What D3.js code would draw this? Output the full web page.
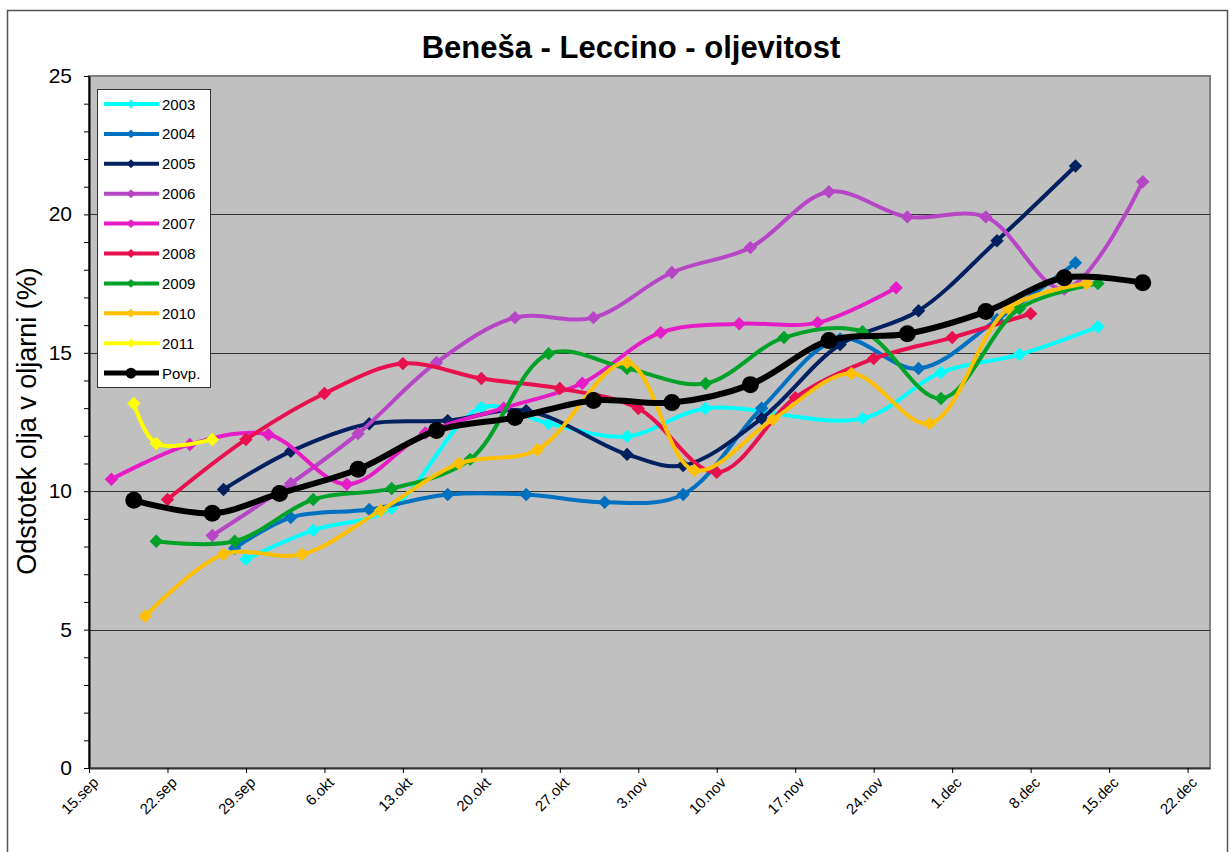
<!DOCTYPE html>
<html lang="sl">
<head>
    <meta charset="UTF-8">
    <title>Beneša - Leccino - oljevitost</title>
    <script src="https://d3js.org/d3.v7.min.js"></script>
</head>

<style>
    body { margin: 0; background: #fff; }
    text { font-family: "Liberation Sans", Arial, sans-serif; }
    .grid line { stroke: #333; stroke-width: 1px; }
</style>

<body>
<svg width="1231" height="852"></svg>

<script>
    // podatki: datum (dan.mesec) in odstotek olja
    var names = ["2003", "2004", "2005", "2006", "2007", "2008", "2009", "2010", "2011", "Povp."];
    var colors = ["#00FFFF", "#0070C0", "#002060", "#B646C6", "#E61CC6", "#E8104E", "#00A328", "#FFC000", "#FFFF00", "#000000"];

    var s2003 = [["29.09", 7.54], ["05.10", 8.59], ["12.10", 9.38], ["20.10", 13.02], ["26.10", 12.45],
        ["02.11", 11.98], ["09.11", 12.99], ["23.11", 12.63], ["30.11", 14.29], ["07.12", 14.94], ["14.12", 15.94]];
    var s2004 = [["28.09", 7.94], ["03.10", 9.05], ["10.10", 9.34], ["17.10", 9.88], ["24.10", 9.88],
        ["31.10", 9.6], ["07.11", 9.88], ["14.11", 13.0], ["21.11", 15.5], ["28.11", 14.43],
        ["05.12", 16.2], ["12.12", 18.25]];
    var s2005 = [["27.09", 10.06], ["03.10", 11.44], ["10.10", 12.44], ["17.10", 12.55], ["24.10", 12.91],
        ["02.11", 11.33], ["07.11", 10.93], ["14.11", 12.63], ["21.11", 15.3], ["28.11", 16.52],
        ["05.12", 19.05], ["12.12", 21.75]];
    var s2006 = [["26.09", 8.4], ["03.10", 10.28], ["09.10", 12.08], ["16.10", 14.65], ["23.10", 16.27],
        ["30.10", 16.27], ["06.11", 17.9], ["13.11", 18.8], ["20.11", 20.82], ["27.11", 19.91],
        ["04.12", 19.91], ["11.12", 17.3], ["18.12", 21.18]];
    var s2007 = [["17.09", 10.43], ["24.09", 11.69], ["01.10", 12.05], ["08.10", 10.25], ["15.10", 12.1],
        ["22.10", 13.0], ["29.10", 13.9], ["05.11", 15.73], ["12.11", 16.05], ["19.11", 16.09], ["26.11", 17.35]];
    var s2008 = [["22.09", 9.7], ["29.09", 11.87], ["06.10", 13.53], ["13.10", 14.61], ["20.10", 14.07],
        ["27.10", 13.71], ["03.11", 12.99], ["10.11", 10.68], ["17.11", 13.38], ["24.11", 14.79],
        ["01.12", 15.55], ["08.12", 16.41]];
    var s2009 = [["21.09", 8.19], ["28.09", 8.19], ["05.10", 9.7], ["12.10", 10.1], ["19.10", 11.15],
        ["26.10", 14.97], ["02.11", 14.43], ["09.11", 13.89], ["16.11", 15.55], ["23.11", 15.76],
        ["30.11", 13.35], ["07.12", 16.6], ["14.12", 17.5]];
    var s2010 = [["20.09", 5.48], ["27.09", 7.72], ["04.10", 7.72], ["11.10", 9.3], ["18.10", 11.0],
        ["25.10", 11.5], ["02.11", 14.65], ["08.11", 10.75], ["15.11", 12.59], ["22.11", 14.25],
        ["29.11", 12.45], ["06.12", 16.6], ["13.12", 17.5]];
    var s2011 = [["19.09", 13.17], ["21.09", 11.72], ["26.09", 11.87]];
    var sPovp = [["19.09", 9.67], ["26.09", 9.2], ["02.10", 9.92], ["09.10", 10.79], ["16.10", 12.19],
        ["23.10", 12.66], ["30.10", 13.28], ["06.11", 13.2], ["13.11", 13.85], ["20.11", 15.44],
        ["27.11", 15.69], ["04.12", 16.49], ["11.12", 17.71], ["18.12", 17.53]];

    var allSeries = [s2003, s2004, s2005, s2006, s2007, s2008, s2009, s2010, s2011, sPovp];

    var tickLabels = ["15.sep", "22.sep", "29.sep", "6.okt", "13.okt", "20.okt", "27.okt", "3.nov",
        "10.nov", "17.nov", "24.nov", "1.dec", "8.dec", "15.dec", "22.dec"];
    var yTicks = [0, 5, 10, 15, 20, 25];

    var parseDate = d3.timeParse("%d.%m.%Y");
    function toDate(s) { return parseDate(s + ".2003"); }

    var svg = d3.select("svg");

    // okvir grafikona
    svg.append("rect")
        .attr("x", 7.5).attr("y", 10.5)
        .attr("width", 1220).attr("height", 860)
        .attr("fill", "#fff")
        .attr("stroke", "#555")
        .attr("stroke-width", 1.5);

    var plotL = 89, plotT = 76, plotR = 1210, plotB = 768;

    var x = d3.scaleTime()
        .domain([toDate("15.09"), toDate("24.12")])
        .range([plotL, plotR]);
    var y = d3.scaleLinear().domain([0, 25]).range([plotB, plotT]);

    svg.append("rect")
        .attr("x", plotL).attr("y", plotT)
        .attr("width", plotR - plotL).attr("height", plotB - plotT)
        .attr("fill", "#C0C0C0")
        .attr("stroke", "#808080")
        .attr("stroke-width", 2);

    // mreža
    svg.append("g")
        .attr("class", "grid")
        .selectAll("line")
        .data(yTicks.filter(function(d) { return d > 0 && d < 25; }))
        .enter().append("line")
        .attr("x1", plotL).attr("x2", plotR)
        .attr("y1", function(d) { return Math.round(y(d)) + 0.5; })
        .attr("y2", function(d) { return Math.round(y(d)) + 0.5; });

    // y os
    var yAxis = svg.append("g")
        .attr("transform", "translate(" + plotL + ",0)")
        .call(d3.axisLeft(y).tickValues(d3.range(0, 26, 1)).tickSize(5).tickSizeOuter(0).tickFormat(""));
    yAxis.select(".domain").attr("stroke", "#000").attr("stroke-width", 2);
    yAxis.selectAll(".tick line").attr("stroke", "#000");

    svg.append("g")
        .selectAll("text")
        .data(yTicks)
        .enter().append("text")
        .attr("x", 72)
        .attr("y", function(d) { return y(d) + 7; })
        .attr("text-anchor", "end")
        .style("font-size", "21px")
        .text(function(d) { return d; });

    // x os
    var weekDates = tickLabels.map(function(d, i) { return d3.timeDay.offset(toDate("15.09"), 7 * i); });
    var xAxis = svg.append("g")
        .attr("transform", "translate(0," + plotB + ")")
        .call(d3.axisBottom(x).tickValues(weekDates).tickSize(5).tickSizeOuter(0).tickFormat(""));
    xAxis.select(".domain").attr("stroke", "#333").attr("stroke-width", 2);
    xAxis.selectAll(".tick line").attr("stroke", "#000");

    svg.append("g")
        .selectAll("text")
        .data(weekDates)
        .enter().append("text")
        .attr("transform", function(d) {
            return "translate(" + (x(d) + 3) + "," + (plotB + 8) + ") rotate(-45)";
        })
        .attr("text-anchor", "end")
        .attr("dy", "0.7em")
        .style("font-size", "15px")
        .text(function(d, i) { return tickLabels[i]; });

    // naslov in oznaka osi
    svg.append("text")
        .attr("x", 631).attr("y", 58)
        .attr("text-anchor", "middle")
        .style("font-size", "31px")
        .style("font-weight", "bold")
        .text("Beneša - Leccino - oljevitost");

    svg.append("text")
        .attr("transform", "translate(36,421) rotate(-90)")
        .attr("text-anchor", "middle")
        .style("font-size", "27px")
        .text("Odstotek olja v oljarni (%)");

    // črte
    var line = d3.line()
        .x(function(d) { return x(toDate(d[0])); })
        .y(function(d) { return y(d[1]); })
        .curve(d3.curveCatmullRom.alpha(0.5));

    var diamond = d3.symbol().type(d3.symbolDiamond2).size(115);

    allSeries.forEach(function(data, i) {
        var isAvg = names[i] === "Povp.";
        var g = svg.append("g");
        g.append("path")
            .datum(data)
            .attr("d", line)
            .attr("fill", "none")
            .attr("stroke", colors[i])
            .attr("stroke-width", isAvg ? 6 : 4)
            .attr("stroke-linejoin", "round");
        if (isAvg) {
            g.selectAll("circle")
                .data(data)
                .enter().append("circle")
                .attr("cx", function(d) { return x(toDate(d[0])); })
                .attr("cy", function(d) { return y(d[1]); })
                .attr("r", 8.5)
                .attr("fill", colors[i]);
        } else {
            g.selectAll("path.m")
                .data(data)
                .enter().append("path")
                .attr("class", "m")
                .attr("d", diamond)
                .attr("transform", function(d) {
                    return "translate(" + x(toDate(d[0])) + "," + y(d[1]) + ")";
                })
                .attr("fill", colors[i]);
        }
    });

    // legenda
    var legend = svg.append("g");
    legend.append("rect")
        .attr("x", 97.5).attr("y", 89.5)
        .attr("width", 113).attr("height", 298)
        .attr("fill", "#fff")
        .attr("stroke", "#333")
        .attr("stroke-width", 1);

    var item = legend.selectAll("g")
        .data(names)
        .enter().append("g")
        .attr("transform", function(d, i) { return "translate(0," + (104 + i * 29.9) + ")"; });

    item.append("line")
        .attr("x1", 104).attr("x2", 159)
        .attr("stroke", function(d, i) { return colors[i]; })
        .attr("stroke-width", function(d) { return d === "Povp." ? 5 : 4; });

    item.append("path")
        .attr("d", function(d) {
            return d === "Povp." ? d3.symbol().type(d3.symbolCircle).size(90)() : d3.symbol().type(d3.symbolDiamond2).size(50)();
        })
        .attr("transform", "translate(131,0)")
        .attr("fill", function(d, i) { return colors[i]; });

    item.append("text")
        .attr("x", 162).attr("y", 5.5)
        .style("font-size", "15px")
        .text(function(d) { return d; });
</script>
</body>
</html>
